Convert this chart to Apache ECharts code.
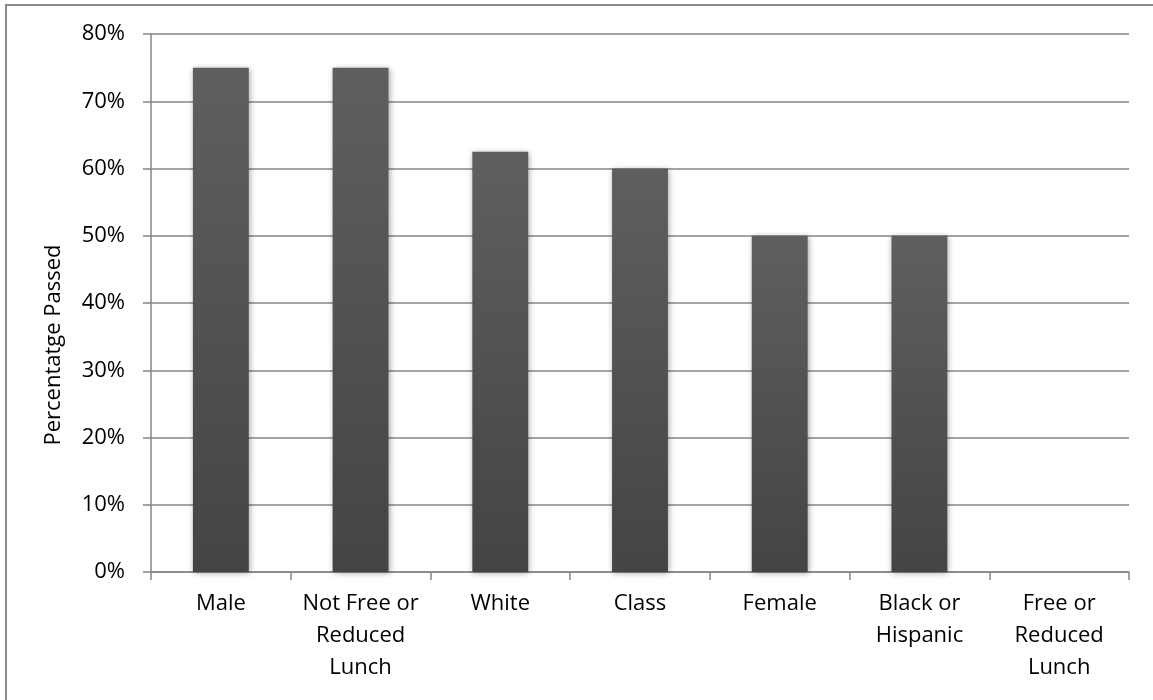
<!DOCTYPE html>
<html><head><meta charset="utf-8">
<script src="https://cdn.jsdelivr.net/npm/echarts@6/dist/echarts.min.js"></script>
<style>html,body{margin:0;padding:0;background:#fff}#c{width:1153px;height:700px}</style>
</head><body><div id="c"></div>
<script>
const categories = ["Male", "Not Free or\nReduced\nLunch", "White", "Class", "Female", "Black or\nHispanic", "Free or\nReduced\nLunch"];
const values = [75, 75, 62.5, 60, 50, 50, 0];
const yTicks = [0, 10, 20, 30, 40, 50, 60, 70, 80];
const yName = "Percentatge Passed";

const chart = echarts.init(document.getElementById('c'));
const font = "'Open Sans', 'Noto Sans', sans-serif";
chart.setOption({
  animation: false,
  graphic: [
    { type: 'rect', shape: { x: 6, y: 5, width: 1200, height: 760 }, style: { fill: 'none', stroke: '#8a8a8a', lineWidth: 2 }, z: -1 },
    { type: 'text', x: 54, y: 345, rotation: Math.PI / 2,
      style: { text: yName, fill: '#000', font: "22px 'Open Sans', 'Noto Sans', sans-serif", align: 'center', verticalAlign: 'middle' } }
  ],
  grid: { left: 151, right: 24, top: 34, bottom: 128, containLabel: false },
  xAxis: {
    type: 'category', data: categories,
    axisLine: { lineStyle: { color: '#868686', width: 1.5 } },
    axisTick: { show: true, length: 8, alignWithLabel: false, lineStyle: { color: '#868686', width: 1.5 } },
    axisLabel: { color: '#000', fontFamily: font, fontSize: 22, lineHeight: 32, margin: 16, interval: 0 }
  },
  yAxis: {
    type: 'value', min: 0, max: 80, interval: 10,
    axisLine: { show: true, lineStyle: { color: '#868686', width: 1.5 } },
    axisTick: { show: true, length: 8, lineStyle: { color: '#868686', width: 1.5 } },
    axisLabel: { color: '#000', fontFamily: font, fontSize: 22, margin: 26,
      formatter: v => yTicks.includes(v) ? v + '%' : '' },
    splitLine: { lineStyle: { color: '#868686', width: 1.5 } }
  },
  series: [{
    type: 'bar', data: values, barWidth: '40%',
    itemStyle: {
      color: new echarts.graphic.LinearGradient(0, 0, 0, 1, [
        { offset: 0, color: '#5f5f5f' }, { offset: 1, color: '#444444' }
      ]),
      shadowColor: 'rgba(0,0,0,0.35)', shadowBlur: 6, shadowOffsetX: 1, shadowOffsetY: 1
    }
  }]
});
</script></body></html>
